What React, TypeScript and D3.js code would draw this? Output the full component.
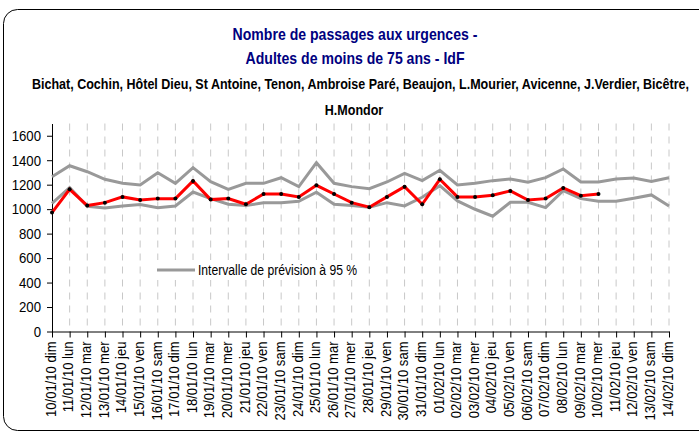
import React, { useEffect, useRef } from 'react';
import * as d3 from 'd3';

const dates = [
  '10/01/10 dim', '11/01/10 lun', '12/01/10 mar', '13/01/10 mer', '14/01/10 jeu', '15/01/10 ven',
  '16/01/10 sam', '17/01/10 dim', '18/01/10 lun', '19/01/10 mar', '20/01/10 mer', '21/01/10 jeu',
  '22/01/10 ven', '23/01/10 sam', '24/01/10 dim', '25/01/10 lun', '26/01/10 mar', '27/01/10 mer',
  '28/01/10 jeu', '29/01/10 ven', '30/01/10 sam', '31/01/10 dim', '01/02/10 lun', '02/02/10 mar',
  '03/02/10 mer', '04/02/10 jeu', '05/02/10 ven', '06/02/10 sam', '07/02/10 dim', '08/02/10 lun',
  '09/02/10 mar', '10/02/10 mer', '11/02/10 jeu', '12/02/10 ven', '13/02/10 sam', '14/02/10 dim',
];

// observed passages (stops at 10/02/10)
const observed = [
  972, 1162, 1029, 1053, 1100, 1075, 1086, 1086, 1230, 1078, 1086,
  1040, 1124, 1124, 1100, 1195, 1124, 1053, 1016, 1100, 1184, 1040, 1244, 1100,
  1100, 1113, 1149, 1075, 1086, 1173, 1110, 1124,
];

// 95% prediction interval
const upper = [
  1265, 1355, 1306, 1244, 1211, 1198, 1298, 1211, 1339, 1224, 1162,
  1211, 1211, 1257, 1184, 1380, 1211, 1184, 1167, 1222, 1293, 1233, 1318, 1198,
  1211, 1233, 1247, 1220, 1257, 1328, 1222, 1222, 1247, 1255, 1227, 1257,
];
const lower = [
  1048, 1176, 1024, 1010, 1026, 1037, 1012, 1026, 1140, 1086, 1040,
  1029, 1053, 1053, 1064, 1138, 1040, 1029, 1016, 1053, 1026, 1097, 1192, 1067,
  999, 942, 1056, 1056, 1012, 1151, 1086, 1064, 1064, 1089, 1116, 1026,
];

const yTicks = [0, 200, 400, 600, 800, 1000, 1200, 1400, 1600];

const FONT = "'Liberation Sans', Arial, sans-serif";

export default function App() {
  const svgRef = useRef<SVGSVGElement>(null);

  useEffect(() => {
    if (!svgRef.current) return;
    const height = 432;
    const margin = { top: 123.5, right: 30, bottom: 100.5, left: 52 };

    const svg = d3.select(svgRef.current);
    svg.selectAll('*').remove();

    // frame (runs off the right edge)
    svg.append('rect')
      .attr('x', 3.5).attr('y', 9.5)
      .attr('width', 740).attr('height', 421)
      .attr('rx', 14)
      .attr('fill', 'white')
      .attr('stroke', '#000')
      .attr('stroke-width', 1);

    const x = d3.scalePoint<string>()
      .domain(dates)
      .range([margin.left, 669]);

    const y = d3.scaleLinear()
      .domain([0, 1700])
      .range([height - margin.bottom, margin.top]);

    // titles (narrow font look via horizontal squeeze)
    const addText = (tx: number, ty: number, size: number, sx: number, fill: string, anchor: string, txt: string) => {
      svg.append('text')
        .attr('transform', `translate(${tx},${ty}) scale(${sx},1)`)
        .attr('font-family', FONT).attr('font-weight', 'bold')
        .attr('font-size', size).attr('fill', fill)
        .attr('text-anchor', anchor)
        .text(txt);
    };
    addText(355, 40, 16, 0.88, '#000080', 'middle', 'Nombre de passages aux urgences -');
    addText(355, 64, 16, 0.88, '#000080', 'middle', 'Adultes de moins de 75 ans - IdF');
    addText(32, 89, 14, 0.895, '#000', 'start',
      'Bichat, Cochin, Hôtel Dieu, St Antoine, Tenon, Ambroise Paré, Beaujon, L.Mourier, Avicenne, J.Verdier, Bicêtre,');
    addText(354, 115, 14, 0.895, '#000', 'middle', 'H.Mondor');

    // dashed vertical grid
    svg.append('g')
      .selectAll('line')
      .data(dates.slice(1))
      .join('line')
      .attr('x1', d => x(d)!).attr('x2', d => x(d)!)
      .attr('y1', y(1700)).attr('y2', y(0))
      .attr('stroke', '#c8c8c8')
      .attr('stroke-width', 1)
      .attr('stroke-dasharray', '7,6');

    // y axis
    const yAxis = svg.append('g')
      .attr('transform', `translate(${margin.left},0)`)
      .call(d3.axisLeft(y).tickValues(yTicks).tickSize(5).tickSizeOuter(0).tickFormat(d3.format('d')));
    yAxis.select('.domain').attr('stroke', '#000');
    yAxis.selectAll('.tick line').attr('stroke', '#000');
    yAxis.selectAll('.tick text')
      .attr('font-family', FONT).attr('font-size', 15).attr('fill', '#000')
      .attr('transform', 'scale(0.88,1)')
      .attr('x', -11 / 0.88);

    // x axis
    const xAxis = svg.append('g')
      .attr('transform', `translate(0,${y(0)})`)
      .call(d3.axisBottom(x).tickSize(6).tickSizeOuter(0));
    xAxis.select('.domain').attr('stroke', '#000');
    xAxis.selectAll('.tick line').attr('stroke', '#000');
    xAxis.selectAll('.tick text')
      .attr('font-family', FONT).attr('font-size', 15).attr('fill', '#000')
      .attr('transform', 'rotate(-90) scale(0.87,1)')
      .attr('text-anchor', 'end')
      .attr('x', -10 / 0.87).attr('y', -2).attr('dy', '0.35em');

    const line = d3.line<number>()
      .x((_, i) => x(dates[i])!)
      .y(d => y(d));

    svg.append('path').datum(upper).attr('d', line).attr('fill', 'none')
      .attr('stroke', '#999999').attr('stroke-width', 3);
    svg.append('path').datum(lower).attr('d', line).attr('fill', 'none')
      .attr('stroke', '#999999').attr('stroke-width', 3);

    svg.append('path').datum(observed).attr('d', line).attr('fill', 'none')
      .attr('stroke', '#ff0000').attr('stroke-width', 3);

    svg.append('g')
      .selectAll('circle')
      .data(observed)
      .join('circle')
      .attr('cx', (_, i) => x(dates[i])!)
      .attr('cy', d => y(d))
      .attr('r', 2)
      .attr('fill', '#000');

    // legend
    const legend = svg.append('g').attr('transform', 'translate(157,270)');
    legend.append('rect').attr('x', -2).attr('y', -10).attr('width', 206).attr('height', 20).attr('fill', 'white');
    legend.append('line').attr('x1', 0).attr('x2', 38).attr('y1', 0).attr('y2', 0)
      .attr('stroke', '#999999').attr('stroke-width', 3);
    legend.append('text')
      .attr('transform', 'translate(41,0) scale(0.81,1)')
      .attr('dy', '0.35em')
      .attr('font-family', FONT).attr('font-size', 15).attr('fill', '#000')
      .text('Intervalle de prévision à 95 %');
  }, []);

  return (
    <div style={{ position: 'absolute', left: 0, top: 0, width: 699, height: 432, overflow: 'hidden', background: '#fff' }}>
      <svg ref={svgRef} width={699} height={432} />
    </div>
  );
}
